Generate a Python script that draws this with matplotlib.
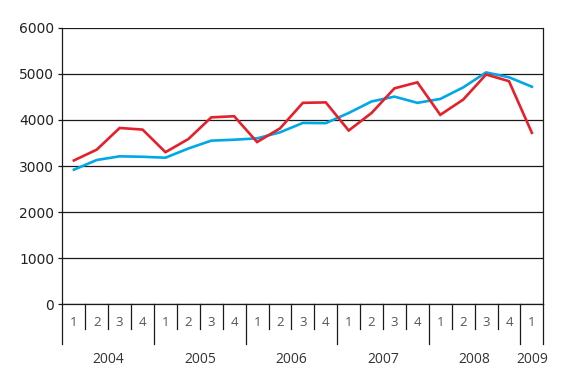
import matplotlib
matplotlib.use("Agg")
import matplotlib.pyplot as plt
import matplotlib.transforms as mtransforms

# quarterly series, 2004 Q1 - 2009 Q1
years = [2004] * 4 + [2005] * 4 + [2006] * 4 + [2007] * 4 + [2008] * 4 + [2009]
quarters = [1, 2, 3, 4] * 5 + [1]

blue_vals = [2920, 3130, 3210, 3200, 3180, 3380, 3550, 3570, 3600, 3730,
             3935, 3930, 4150, 4400, 4505, 4370, 4455, 4705, 5030, 4925, 4720]
red_vals = [3120, 3355, 3825, 3790, 3300, 3585, 4055, 4080, 3520, 3815,
            4370, 4380, 3770, 4150, 4685, 4815, 4110, 4440, 4985, 4840, 3720]

y_ticks = [0, 1000, 2000, 3000, 4000, 5000, 6000]

fig = plt.figure(figsize=(5.7, 3.7), dpi=100)
ax = fig.add_axes([0.1095, 0.1776, 0.9532 - 0.1095, 0.9251 - 0.1776])

xs = list(range(len(quarters)))
ax.plot(xs, blue_vals, color="#00A8E6", lw=1.9, solid_joinstyle="miter")
ax.plot(xs, red_vals, color="#E5202B", lw=1.9, solid_joinstyle="miter")

ax.set_xlim(-0.5, len(quarters) - 0.5)
ax.set_ylim(0, 6000)
ax.set_yticks(y_ticks)
ax.yaxis.grid(True, color="#1a1a1a", lw=0.9)
ax.set_axisbelow(True)
ax.tick_params(axis="y", length=3, width=0.9, color="#1a1a1a", pad=3,
               labelsize=10, labelcolor="#222222")
ax.set_xticks([])
ax.spines["top"].set_visible(False)
for s in ["left", "right", "bottom"]:
    ax.spines[s].set_color("#1a1a1a")
    ax.spines[s].set_linewidth(0.9)

# category axis below: quarter labels, separators and year labels
trans = mtransforms.blended_transform_factory(ax.transData, ax.transAxes)
for i in range(len(quarters) + 1):
    long_line = i == 0 or i == len(quarters) or (i < len(quarters) and quarters[i] == 1)
    y_end = -0.1435 if long_line else -0.0904
    ax.plot([i - 0.5, i - 0.5], [0, y_end], transform=trans, color="#1a1a1a",
            lw=0.9, clip_on=False)

for i, q in enumerate(quarters):
    ax.text(i, -0.0676, str(q), transform=trans, ha="center", va="center",
            fontsize=9.5, color="#555555", family="Open Sans")

for yr in sorted(set(years)):
    idx = [i for i, y in enumerate(years) if y == yr]
    centre = (idx[0] + idx[-1]) / 2
    ax.text(centre, -0.2014, str(yr), transform=trans, ha="center", va="center",
            fontsize=10, color="#333333", family="Open Sans")

fig.savefig("out.png", dpi=100)
